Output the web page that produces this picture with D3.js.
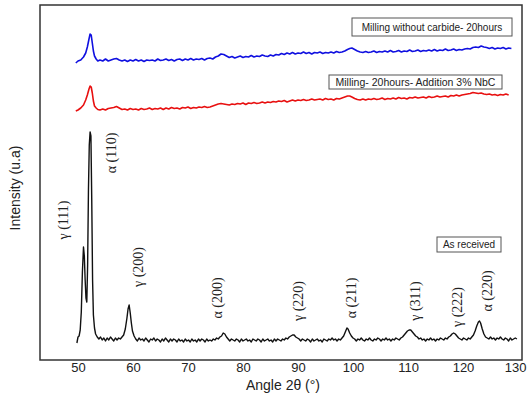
<!DOCTYPE html>
<html>
<head>
<meta charset="utf-8">
<script src="https://cdn.jsdelivr.net/npm/d3@7"></script>
<style>
  html, body { margin: 0; padding: 0; background: #fff; }
  svg { display: block; }
</style>
</head>
<body>
<svg id="chart" width="527" height="395"></svg>
<script>
// ---------- data (angle 2θ in degrees, intensity in arbitrary units, stacked offsets included) ----------
const xTicks = [50, 60, 70, 80, 90, 100, 110, 120, 130];

const seriesNames = ["Milling without carbide- 20hours", "Milling- 20hours- Addition 3% NbC", "As received"];
const seriesColors = ["#1010e0", "#e81010", "#111111"];

const blueAngle = [49.6,50.0,50.5,51.0,51.4,51.7,52.0,52.2,52.4,52.6,52.8,53.0,53.3,53.6,54.0,54.5,55.0,55.5,56.0,56.5,57.0,57.5,58.0,58.5,59.0,59.5,60.0,60.5,61.0,61.5,62.0,62.5,63.0,63.5,64.0,64.5,65.0,65.5,66.0,66.5,67.0,67.5,68.0,68.5,69.0,69.5,70.0,70.5,71.0,71.5,72.0,72.5,73.0,73.5,74.0,74.5,75.0,75.5,76.0,76.5,77.0,77.5,78.0,78.5,79.0,79.5,80.0,80.5,81.0,81.5,82.0,82.5,83.0,83.5,84.0,84.5,85.0,85.5,86.0,86.5,87.0,87.5,88.0,88.5,89.0,89.5,90.0,90.5,91.0,91.5,92.0,92.5,93.0,93.5,94.0,94.5,95.0,95.5,96.0,96.5,97.0,97.5,98.0,98.5,99.0,99.4,99.8,100.3,100.8,101.3,101.8,102.3,102.8,103.3,103.8,104.3,104.8,105.3,105.8,106.3,106.8,107.3,107.8,108.3,108.8,109.3,109.8,110.3,110.8,111.3,111.8,112.3,112.8,113.3,113.8,114.3,114.8,115.3,115.8,116.3,116.8,117.3,117.8,118.3,118.8,119.3,119.8,120.3,120.8,121.3,121.8,122.3,122.8,123.3,123.8,124.3,124.8,125.3,125.8,126.3,126.8,127.3,127.8,128.3,128.8,129.3,129.8];
const blueValue = [297,299,300,303,307,313,321,326,325,317,309,304,301,299,300,299,301,299,300,301,301.5,300,299,300,298.5,300,299,300.5,299,300,298.5,300,299.5,300,299,301,299.5,300,301,299.5,300.5,299,300.5,301,299.5,301,300,301.5,300,301,300.5,301.5,300,301.5,302,301,303,304,306,305.5,304,302.5,303.5,302,303,304,302.5,303.5,303,304.5,303,304,303.5,305,304,303.5,305,304,305.5,305,306.5,305.5,307,306,307.5,306,307,306.5,308,306.5,307.5,306,307.5,307,308,306.5,307.5,307,308,307,308.5,307.5,308,309,310.5,311.5,312,310.5,309,308,307.5,308.5,307.5,308,309,307.5,308.5,308,309,308,309.5,308,308.5,309.5,308,309,308.5,310,308.5,309,310,308.5,309.5,309,310,309,310.5,309,310,309.5,311,309.5,310,311,309.5,310.5,310,311,311.5,311,312.5,313,312.5,314,313,312.5,311.5,312.5,311,312,311.5,312.5,311,312,311.5];

const redAngle = [49.6,50.0,50.5,51.0,51.4,51.7,52.0,52.2,52.4,52.6,52.8,53.0,53.3,53.6,54.0,54.5,55.0,55.5,56.0,56.5,57.0,57.5,58.0,58.5,59.0,59.5,60.0,60.5,61.0,61.5,62.0,62.5,63.0,63.5,64.0,64.5,65.0,65.5,66.0,66.5,67.0,67.5,68.0,68.5,69.0,69.5,70.0,70.5,71.0,71.5,72.0,72.5,73.0,73.5,74.0,74.5,75.0,75.5,76.0,76.5,77.0,77.5,78.0,78.5,79.0,79.5,80.0,80.5,81.0,81.5,82.0,82.5,83.0,83.5,84.0,84.5,85.0,85.5,86.0,86.5,87.0,87.5,88.0,88.5,89.0,89.5,90.0,90.5,91.0,91.5,92.0,92.5,93.0,93.5,94.0,94.5,95.0,95.5,96.0,96.5,97.0,97.5,98.0,98.5,99.0,99.4,99.8,100.3,100.8,101.3,101.8,102.3,102.8,103.3,103.8,104.3,104.8,105.3,105.8,106.3,106.8,107.3,107.8,108.3,108.8,109.3,109.8,110.3,110.8,111.3,111.8,112.3,112.8,113.3,113.8,114.3,114.8,115.3,115.8,116.3,116.8,117.3,117.8,118.3,118.8,119.3,119.8,120.3,120.8,121.3,121.8,122.3,122.8,123.3,123.8,124.3,124.8,125.3,125.8,126.3,126.8,127.3,127.8,128.3,128.8,129.3,129.8];
const redValue = [249,250,252,255,260,265,271,274,273,267,259,254,252,250.5,250,251,250,251.5,252,252.5,253.5,252,250.5,251,250,251.5,250.5,251,250,251.5,250.5,251,252,250.5,251.5,251,252,250.5,252,251,252.5,251.5,252,251,252.5,252,253,251.5,252.5,252,253,252.5,253.5,252.5,253,254,255,256,256.5,256,255.5,255,256,255.5,256.5,256,257,255.5,257,256.5,257.5,256.5,257,258,257,258,257.5,258.5,258,259,258.5,259.5,258,259,260,259,260,259.5,260.5,259.5,260,261,260,260.5,261,260,261.5,260.5,261,260,261.5,261,262,263,264,264,263,261.5,260.5,260,261,260,261,260.5,261.5,260.5,261,262,260.5,261.5,261,262,261,262.5,261.5,262,261,262.5,262,263,262,262.5,263,262,263.5,262.5,263,264,263,263.5,264,263,264.5,264,265,264,265,265.5,266,266.5,267.5,267,266.5,267,266,265.5,266,265,265.5,264.5,265.5,265,266,265];

const blackAngle = [49.8,50.0,50.2,50.4,50.6,50.8,51.0,51.15,51.3,51.45,51.6,51.75,51.9,52.05,52.2,52.35,52.5,52.65,52.8,53.0,53.2,53.5,53.8,54.1,54.4,54.7,55.0,55.3,55.6,55.9,56.2,56.5,56.8,57.1,57.4,57.7,58.0,58.3,58.6,58.9,59.1,59.3,59.5,59.7,59.9,60.2,60.5,60.8,61.1,61.4,61.7,62.0,62.3,62.6,62.9,63.2,63.5,63.8,64.1,64.4,64.7,65.0,65.3,65.6,65.9,66.2,66.5,66.8,67.1,67.4,67.7,68.0,68.3,68.6,68.9,69.2,69.5,69.8,70.1,70.4,70.7,71.0,71.3,71.6,71.9,72.2,72.5,72.8,73.1,73.4,73.7,74.0,74.3,74.6,74.9,75.2,75.5,75.8,76.1,76.4,76.7,77.0,77.3,77.6,77.9,78.2,78.5,78.8,79.1,79.4,79.7,80.0,80.3,80.6,80.9,81.2,81.5,81.8,82.1,82.4,82.7,83.0,83.3,83.6,83.9,84.2,84.5,84.8,85.1,85.4,85.7,86.0,86.3,86.6,86.9,87.2,87.5,87.8,88.1,88.4,88.7,89.0,89.3,89.6,89.9,90.2,90.5,90.8,91.1,91.4,91.7,92.0,92.3,92.6,92.9,93.2,93.5,93.8,94.1,94.4,94.7,95.0,95.3,95.6,95.9,96.2,96.5,96.8,97.1,97.4,97.7,98.0,98.3,98.6,98.9,99.1,99.4,99.7,100.0,100.3,100.6,100.9,101.2,101.5,101.8,102.1,102.4,102.7,103.0,103.3,103.6,103.9,104.2,104.5,104.8,105.1,105.4,105.7,106.0,106.3,106.6,106.9,107.2,107.5,107.8,108.1,108.4,108.7,109.0,109.3,109.6,109.9,110.2,110.5,110.8,111.1,111.4,111.7,112.0,112.3,112.6,112.9,113.2,113.5,113.8,114.1,114.4,114.7,115.0,115.3,115.6,115.9,116.2,116.5,116.8,117.1,117.4,117.7,118.0,118.3,118.6,118.9,119.2,119.5,119.8,120.1,120.4,120.7,121.0,121.3,121.6,121.9,122.2,122.5,122.8,123.0,123.2,123.5,123.8,124.1,124.4,124.7,125.0,125.3,125.6,125.9,126.2,126.5,126.8,127.1,127.4,127.7,128.0,128.3,128.6,128.9,129.2,129.5,129.8];
const blackValue = [17,23,24,30,48,88,113,104,80,62,58,95,170,215,228,224,160,80,45,32,26,23,21,23,20,22,19,22,20,23,21,19,22,20,22,21,23,25,31,42,51,55,47,37,29,24,21,19,22,20,21,19,22,20,18,21,20,22,19,21,20,18,21,19,22,20,18,21,19,21,20,18,21,19,20,18,21,19,20,18,21,19,20,18,21,19,21,20,18,21,19,20,19,21,20,22,21,23,24,27,26,23,21,19,21,20,19,21,20,18,21,19,20,21,19,20,18,21,20,19,21,20,18,21,19,20,21,19,20,18,21,19,21,20,19,21,20,22,21,23,24,25,25,23,22,21,19,21,20,19,21,20,18,21,19,20,21,19,20,18,21,20,19,21,20,22,20,21,19,21,20,22,24,28,32,31,27,24,22,21,19,21,20,22,20,19,21,20,22,20,19,21,20,22,21,19,21,20,22,20,21,19,21,20,22,21,20,22,23,25,27,29,30,30,28,26,24,23,21,22,20,21,19,21,20,22,20,21,19,21,20,22,21,20,22,21,23,24,26,27,26,24,22,21,20,22,21,20,22,21,23,25,29,34,38,39,37,31,26,23,22,21,23,21,22,20,22,21,23,21,20,22,21,19,22,20,21,22,21];

// peak annotations: label, anchor angle, anchor intensity
const peakLabels = ["γ (111)", "α (110)", "γ (200)", "α (200)", "γ (220)", "α (211)", "γ (311)", "γ (222)", "α (220)"];
const peakLabelAngle = [47.3, 56.0, 60.9, 75.2, 90.1, 99.6, 111.2, 119.0, 124.3];
const peakLabelLevel = [140, 207, 93, 62, 59, 62, 59, 53, 69];

// ---------- layout ----------
const frame = {left: 40, top: 5, right: 522, bottom: 360};
const svg = d3.select("#chart");

const x = d3.scaleLinear().domain([50, 130]).range([78, 518]);
const y = d3.scaleLinear().domain([0, 355]).range([frame.bottom, frame.top]);

// frame
svg.append("rect")
  .attr("x", frame.left).attr("y", frame.top)
  .attr("width", frame.right - frame.left).attr("height", frame.bottom - frame.top)
  .attr("fill", "none").attr("stroke", "#333").attr("stroke-width", 1.5);

// x axis labels (no tick marks)
const xAxis = d3.axisBottom(x).tickValues(xTicks).tickSize(0).tickPadding(3).tickFormat(d3.format("d"));
const gx = svg.append("g").attr("transform", `translate(0,${frame.bottom})`).call(xAxis);
gx.select(".domain").remove();
gx.selectAll("text").attr("font-family", "Liberation Sans, Arial, sans-serif").attr("font-size", 13).attr("fill", "#222");
// keep the last label inside the window (reference shows it at the right edge)
gx.selectAll(".tick").filter(d => d === 130).select("text")
  .attr("text-anchor", "end").attr("x", 526 - x(130));

// axis titles
svg.append("text").attr("x", 283).attr("y", 390).attr("text-anchor", "middle")
  .attr("font-family", "Liberation Sans, Arial, sans-serif").attr("font-size", 14).attr("fill", "#222")
  .text("Angle 2θ (°)");
svg.append("text").attr("transform", "translate(20,188) rotate(-90)").attr("text-anchor", "middle")
  .attr("font-family", "Liberation Sans, Arial, sans-serif").attr("font-size", 14).attr("fill", "#222")
  .text("Intensity (u.a)");

// lines
const line = d3.line().x(d => x(d[0])).y(d => y(d[1]));
const seriesData = [
  d3.zip(blueAngle, blueValue),
  d3.zip(redAngle, redValue),
  d3.zip(blackAngle, blackValue)
];
seriesData.forEach((data, i) => {
  svg.append("path").datum(data)
    .attr("d", line).attr("fill", "none")
    .attr("stroke", seriesColors[i]).attr("stroke-width", i === 2 ? 1.4 : 1.6)
    .attr("stroke-linejoin", "round");
});

// legend boxes
const boxes = [
  {x: 352, y: 18, w: 160, h: 18, fs: 10},
  {x: 329, y: 75, w: 173, h: 14, fs: 10.5},
  {x: 437, y: 237, w: 64, h: 15, fs: 10}
];
boxes.forEach((b, i) => {
  svg.append("rect").attr("x", b.x).attr("y", b.y).attr("width", b.w).attr("height", b.h)
    .attr("fill", "#fff").attr("stroke", "#555").attr("stroke-width", 1);
  svg.append("text").attr("x", b.x + b.w / 2).attr("y", b.y + b.h / 2 + 3.5)
    .attr("text-anchor", "middle")
    .attr("font-family", "Liberation Sans, Arial, sans-serif").attr("font-size", b.fs).attr("fill", "#222")
    .text(seriesNames[i]);
});

// peak labels
peakLabels.forEach((t, i) => {
  svg.append("text")
    .attr("transform", `translate(${x(peakLabelAngle[i])},${y(peakLabelLevel[i])}) rotate(-90)`)
    .attr("text-anchor", "middle").attr("dy", "0.35em")
    .attr("font-family", "Liberation Serif, Times New Roman, serif").attr("font-size", 14).attr("fill", "#222")
    .text(t);
});
</script>
</body>
</html>
